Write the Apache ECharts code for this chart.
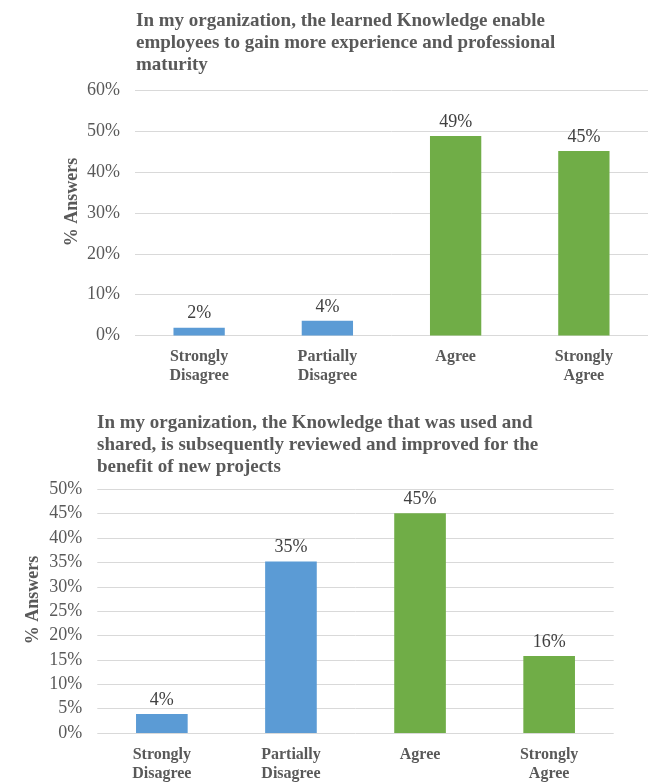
<!DOCTYPE html>
<html>
<head>
<meta charset="utf-8">
<script src="https://cdn.jsdelivr.net/npm/echarts@6/dist/echarts.min.js"></script>
<style>
html,body{margin:0;padding:0;background:#fff;}
#c{width:648px;height:783px;}
</style>
</head>
<body>
<div id="c"></div>
<script>
const categories = ['Strongly\nDisagree', 'Partially\nDisagree', 'Agree', 'Strongly\nAgree'];
const title1 = 'In my organization, the learned Knowledge enable\nemployees to gain more experience and professional\nmaturity';
const title2 = 'In my organization, the Knowledge that was used and\nshared, is subsequently reviewed and improved for the\nbenefit of new projects';
const values1 = [1.9, 3.6, 48.9, 45.2];
const values2 = [3.9, 35.2, 45.1, 15.8];
const axis1 = {min: 0, max: 60, interval: 10};
const axis2 = {min: 0, max: 50, interval: 5};
const yName = '% Answers';

const FONT = '"Liberation Serif", "Times New Roman", serif';
const GRAY = '#595959';
const BLUE = '#5B9BD5';
const GREEN = '#70AD47';

function barColor(p) { return p.dataIndex < 2 ? BLUE : GREEN; }

function xAxis(gi) {
  return {
    type: 'category', gridIndex: gi, data: categories,
    axisLine: {show: false}, axisTick: {show: false},
    axisLabel: {fontFamily: FONT, fontWeight: 'bold', fontSize: 16, color: GRAY, lineHeight: 19, margin: 12, interval: 0}
  };
}
function yAxis(gi, a) {
  return {
    type: 'value', gridIndex: gi, min: a.min, max: a.max, interval: a.interval,
    axisLine: {show: false}, axisTick: {show: false},
    splitLine: {lineStyle: {color: '#d9d9d9', width: 1}},
    axisLabel: {fontFamily: FONT, fontSize: 18, color: GRAY, margin: 15, formatter: v => v + '%'}
  };
}
function series(gi, vals) {
  return {
    type: 'bar', xAxisIndex: gi, yAxisIndex: gi, data: vals, barWidth: '40%',
    itemStyle: {color: barColor},
    label: {show: true, position: 'top', distance: 5, fontFamily: FONT, fontSize: 18, color: '#404040',
      formatter: p => Math.round(p.value) + '%'}
  };
}

const chart = echarts.init(document.getElementById('c'));
chart.setOption({
  animation: false,
  backgroundColor: '#fff',
  title: [
    {text: title1, left: 136, top: 10, padding: 0, textStyle: {fontFamily: FONT, fontWeight: 'bold', fontSize: 19, color: GRAY, lineHeight: 22}},
    {text: title2, left: 97, top: 412, padding: 0, textStyle: {fontFamily: FONT, fontWeight: 'bold', fontSize: 19, color: GRAY, lineHeight: 22}}
  ],
  grid: [
    {left: 135, top: 90.7, width: 516, height: 244.8},
    {left: 97.3, top: 489.3, width: 516.4, height: 246.4}
  ],
  xAxis: [xAxis(0), xAxis(1)],
  yAxis: [yAxis(0, axis1), yAxis(1, axis2)],
  series: [series(0, values1), series(1, values2)],
  graphic: [
    {type: 'text', x: 72, y: 202, rotation: Math.PI / 2,
      style: {text: yName, fontFamily: FONT, fontWeight: 'bold', fontSize: 18, fill: GRAY, align: 'center', verticalAlign: 'middle'}},
    {type: 'text', x: 33, y: 600, rotation: Math.PI / 2,
      style: {text: yName, fontFamily: FONT, fontWeight: 'bold', fontSize: 18, fill: GRAY, align: 'center', verticalAlign: 'middle'}}
  ]
});
</script>
</body>
</html>
